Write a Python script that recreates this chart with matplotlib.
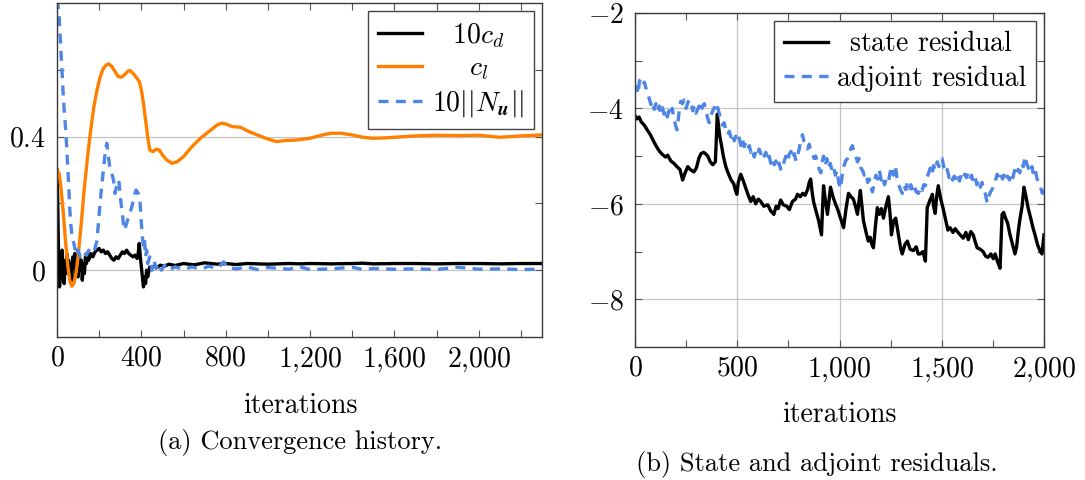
import io
import numpy as np
import matplotlib
matplotlib.use("Agg")
import matplotlib.pyplot as plt
from matplotlib.ticker import FixedLocator, FuncFormatter
import matplotlib.mathtext as mathtext

plt.rcParams['font.family'] = 'serif'
plt.rcParams['font.serif'] = ['cmr10']
plt.rcParams['mathtext.fontset'] = 'cm'
plt.rcParams['axes.unicode_minus'] = False
plt.rcParams['axes.formatter.use_mathtext'] = True

ORANGE = '#FF8000'
BLUE = '#4F86E6'
FS = 20

# ---- (a) convergence history ----
cl_x = [0, 10, 20, 30, 40, 50, 60, 70, 80, 90, 100, 115, 130, 145, 160, 175, 190, 205, 220, 235,
        245, 260, 275, 290, 305, 320, 335, 345, 360, 375, 390, 400, 410, 420, 430, 440, 455, 470,
        485, 500, 520, 545, 570, 600, 640, 680, 720, 760, 780, 800, 830, 870, 910, 950, 990, 1040,
        1080, 1140, 1200, 1260, 1300, 1350, 1400, 1450, 1500, 1550, 1600, 1700, 1800, 1900, 2000,
        2100, 2200, 2300]
cl_y = [0.30, 0.29, 0.24, 0.17, 0.09, 0.02, -0.03, -0.048, -0.04, -0.01, 0.04, 0.14, 0.25, 0.34,
        0.42, 0.49, 0.54, 0.58, 0.605, 0.615, 0.618, 0.61, 0.595, 0.58, 0.578, 0.585, 0.595, 0.598,
        0.59, 0.578, 0.565, 0.54, 0.50, 0.45, 0.40, 0.36, 0.355, 0.362, 0.36, 0.345, 0.33, 0.32,
        0.325, 0.34, 0.37, 0.395, 0.415, 0.435, 0.44, 0.438, 0.43, 0.428, 0.415, 0.405, 0.395,
        0.385, 0.388, 0.39, 0.395, 0.405, 0.41, 0.41, 0.405, 0.398, 0.395, 0.396, 0.398, 0.402,
        0.404, 0.403, 0.404, 0.398, 0.402, 0.405]

cd_x = [0, 3, 6, 9, 12, 15, 18, 21, 24, 27, 30, 34, 38, 42, 46, 50, 55, 60, 65, 70, 75, 80, 85,
        90, 95, 100, 105, 110, 115, 120, 125, 130, 135, 140, 145, 150, 160, 170, 180, 190, 200,
        210, 220, 230, 240, 250, 260, 270, 280, 290, 300, 310, 320, 330, 340, 350, 360, 370, 380,
        385, 390, 395, 400, 405, 410, 415, 420, 425, 430, 440, 450, 460, 475, 490, 510, 530, 560,
        600, 650, 700, 760, 800, 850, 900, 1000, 1100, 1150, 1200, 1300, 1400, 1450, 1500, 1600,
        1700, 1800, 1900, 2000, 2100, 2200, 2300]
cd_y = [0.30, 0.22, 0.10, -0.02, -0.05, -0.03, 0.04, 0.01, 0.06, -0.02, 0.03, -0.04, 0.02, -0.01,
        0.05, 0.0, 0.03, -0.02, 0.02, -0.03, 0.04, 0.01, 0.05, -0.01, 0.03, -0.02, 0.04, 0.0, 0.03,
        -0.03, 0.02, -0.01, 0.04, 0.02, 0.05, 0.03, 0.05, 0.04, 0.055, 0.06, 0.065, 0.055, 0.06,
        0.05, 0.055, 0.045, 0.035, 0.03, 0.04, 0.035, 0.045, 0.055, 0.05, 0.06, 0.05, 0.045, 0.04,
        0.045, 0.035, 0.05, 0.08, 0.04, 0.01, -0.02, -0.05, -0.02, -0.04, 0.0, -0.02, 0.01, 0.005,
        0.012, 0.008, 0.015, 0.012, 0.018, 0.014, 0.02, 0.016, 0.022, 0.018, 0.02, 0.017, 0.02,
        0.018, 0.02, 0.019, 0.02, 0.019, 0.02, 0.021, 0.019, 0.02, 0.02, 0.019, 0.02, 0.02, 0.019,
        0.02, 0.02]

nu_x = [0, 5, 10, 15, 20, 25, 30, 35, 40, 45, 50, 55, 60, 65, 70, 75, 80, 85, 90, 95, 100, 110,
        120, 130, 140, 150, 160, 170, 180, 190, 200, 210, 220, 230, 236, 242, 250, 260, 268, 275,
        282, 290, 295, 300, 310, 318, 325, 335, 345, 355, 365, 375, 385, 393, 400, 405, 410, 415,
        420, 425, 430, 440, 450, 460, 470, 480, 495, 510, 530, 560, 600, 640, 680, 720, 760, 790,
        810, 850, 900, 950, 1000, 1100, 1150, 1200, 1300, 1400, 1450, 1500, 1600, 1700, 1800, 1900,
        2000, 2100, 2200, 2300]
nu_y = [0.82, 0.79, 0.76, 0.70, 0.64, 0.58, 0.52, 0.47, 0.43, 0.38, 0.32, 0.26, 0.19, 0.14, 0.11,
        0.09, 0.08, 0.065, 0.06, 0.045, 0.06, 0.04, 0.055, 0.05, 0.045, 0.06, 0.05, 0.055, 0.065,
        0.09, 0.17, 0.24, 0.30, 0.36, 0.38, 0.35, 0.31, 0.29, 0.27, 0.23, 0.25, 0.27, 0.26, 0.22,
        0.17, 0.12, 0.13, 0.15, 0.17, 0.19, 0.22, 0.24, 0.23, 0.21, 0.14, 0.10, 0.07, 0.09, 0.04,
        0.06, 0.02, 0.04, 0.0, 0.03, 0.005, 0.02, 0.0, 0.015, 0.0, 0.01, 0.002, 0.01, 0.003, 0.012,
        0.005, 0.025, 0.008, 0.004, 0.01, 0.002, 0.008, 0.003, 0.01, 0.002, 0.004, 0.009, 0.002,
        0.005, 0.003, 0.004, 0.002, 0.009, 0.003, 0.004, 0.002, 0.003]

# ---- (b) residuals (log10) ----
state_x = [0, 10, 20, 30, 45, 60, 75, 90, 105, 120, 135, 150, 160, 175, 190, 205, 220, 233, 245,
           258, 270, 288, 300, 312, 322, 335, 345, 356, 368, 380, 393, 398, 402, 408, 415, 422,
           432, 444, 455, 470, 483, 490, 498, 505, 517, 528, 540, 552, 566, 578, 590, 603, 615,
           630, 649, 664, 679, 690, 700, 712, 725, 742, 755, 770, 785, 795, 808, 820, 832, 844,
           852, 859, 866, 873, 885, 898, 905, 912, 917, 922, 930, 941, 948, 956, 968, 980, 990,
           1005, 1020, 1032, 1044, 1056, 1068, 1078, 1088, 1095, 1102, 1110, 1117, 1130, 1141,
           1150, 1158, 1166, 1175, 1185, 1195, 1205, 1215, 1227, 1239, 1247, 1254, 1265, 1275,
           1290, 1300, 1307, 1320, 1332, 1345, 1361, 1375, 1385, 1395, 1408, 1420, 1425, 1429,
           1440, 1454, 1460, 1468, 1475, 1483, 1495, 1507, 1520, 1530, 1541, 1555, 1566, 1576,
           1590, 1605, 1618, 1630, 1642, 1654, 1664, 1673, 1688, 1702, 1715, 1727, 1740, 1752,
           1761, 1772, 1785, 1790, 1795, 1803, 1810, 1822, 1834, 1846, 1858, 1866, 1875, 1883,
           1893, 1902, 1912, 1922, 1935, 1946, 1956, 1968, 1980, 1990, 2000]
state_y = [-4.15, -4.22, -4.18, -4.28, -4.35, -4.45, -4.55, -4.68, -4.80, -4.90, -4.97, -5.02,
           -4.98, -5.10, -5.15, -5.22, -5.28, -5.50, -5.35, -5.22, -5.28, -5.33, -5.25, -5.05,
           -4.95, -4.92, -4.95, -5.00, -5.12, -5.18, -5.12, -4.6, -4.12, -4.35, -4.60, -4.75,
           -5.00, -5.22, -5.35, -5.50, -5.58, -5.70, -5.80, -5.55, -5.38, -5.50, -5.65, -5.80,
           -5.95, -5.85, -6.00, -5.90, -5.95, -6.05, -6.02, -6.15, -6.22, -6.05, -6.10, -5.92,
           -6.02, -6.05, -6.12, -5.95, -5.90, -5.80, -5.85, -5.78, -5.82, -5.70, -5.55, -5.48,
           -5.75, -5.95, -6.15, -6.35, -6.50, -6.65, -6.10, -5.62, -5.90, -6.22, -5.95, -5.65,
           -5.85, -6.00, -6.10, -6.30, -6.50, -6.10, -5.78, -5.85, -5.90, -6.05, -6.22, -5.95,
           -5.72, -6.05, -6.35, -6.60, -6.78, -6.70, -6.85, -6.92, -6.50, -6.08, -6.22, -6.10,
           -6.30, -6.05, -5.85, -6.20, -6.65, -6.35, -6.30, -6.70, -6.95, -7.05, -6.85, -6.78,
           -6.95, -6.98, -6.90, -7.05, -7.05, -7.00, -7.20, -6.60, -6.08, -5.95, -5.80, -6.05,
           -6.20, -5.85, -5.62, -5.90, -6.10, -6.35, -6.55, -6.50, -6.60, -6.52, -6.58, -6.65,
           -6.72, -6.60, -6.75, -6.58, -6.65, -6.80, -6.92, -6.95, -7.00, -7.10, -7.12, -7.05,
           -7.15, -7.05, -7.20, -7.35, -6.80, -6.22, -6.18, -6.28, -6.40, -6.65, -6.85, -7.05,
           -6.90, -6.55, -6.30, -6.05, -5.65, -5.85, -6.08, -6.30, -6.50, -6.65, -6.85, -6.98,
           -7.05, -6.65]

adj_x = [0, 8, 15, 22, 30, 38, 46, 54, 62, 70, 78, 86, 94, 102, 110, 118, 126, 134, 142, 150,
         158, 166, 174, 182, 190, 198, 205, 210, 216, 224, 232, 240, 250, 258, 266, 274, 282, 290,
         298, 306, 314, 322, 330, 339, 347, 355, 363, 371, 380, 388, 396, 404, 412, 420, 428, 436,
         444, 453, 461, 469, 477, 485, 493, 502, 510, 518, 526, 534, 542, 551, 559, 567, 575, 583,
         591, 599, 607, 615, 624, 632, 640, 648, 656, 664, 672, 681, 689, 697, 705, 714, 722, 730,
         738, 746, 755, 763, 771, 779, 787, 795, 803, 811, 819, 827, 835, 844, 852, 860, 868, 876,
         884, 893, 901, 909, 916, 922, 930, 938, 946, 955, 963, 971, 980, 988, 996, 1005, 1013,
         1022, 1030, 1039, 1047, 1055, 1063, 1071, 1080, 1088, 1096, 1105, 1113, 1121, 1130, 1138,
         1146, 1154, 1161, 1170, 1178, 1187, 1195, 1204, 1212, 1220, 1229, 1239, 1247, 1256, 1264,
         1273, 1281, 1290, 1298, 1307, 1315, 1324, 1332, 1341, 1349, 1358, 1366, 1375, 1386, 1395,
         1404, 1412, 1420, 1428, 1436, 1444, 1452, 1460, 1469, 1478, 1486, 1494, 1502, 1511, 1519,
         1527, 1536, 1544, 1553, 1561, 1570, 1578, 1587, 1595, 1604, 1612, 1621, 1629, 1638, 1646,
         1655, 1663, 1672, 1680, 1689, 1697, 1706, 1714, 1722, 1730, 1738, 1746, 1755, 1763, 1771,
         1780, 1788, 1797, 1805, 1814, 1822, 1831, 1839, 1848, 1856, 1865, 1873, 1882, 1890, 1899,
         1907, 1915, 1924, 1932, 1941, 1949, 1958, 1966, 1975, 1983, 1992, 2000]
adj_y = [-3.65, -3.55, -3.70, -3.42, -3.38, -3.50, -3.45, -3.58, -3.68, -3.80, -3.92, -3.85, -4.02,
         -3.90, -4.05, -3.95, -4.10, -3.98, -4.12, -4.02, -4.18, -4.05, -4.15, -4.00, -4.20, -4.35,
         -4.45, -4.30, -4.05, -3.85, -3.90, -3.82, -4.00, -3.88, -3.82, -3.85, -4.05, -3.95, -4.10,
         -4.02, -3.95, -4.08, -3.95, -3.90, -4.05, -4.20, -4.30, -4.15, -4.05, -3.98, -4.08, -3.98,
         -4.10, -4.25, -4.35, -4.30, -4.45, -4.55, -4.48, -4.60, -4.52, -4.68, -4.58, -4.70, -4.62,
         -4.78, -4.65, -4.80, -4.72, -4.85, -4.78, -4.92, -4.85, -5.02, -4.90, -4.98, -4.85, -4.95,
         -4.88, -5.00, -4.92, -5.10, -5.00, -5.15, -5.05, -5.18, -5.10, -5.25, -5.15, -5.30, -5.22,
         -5.10, -5.00, -5.12, -4.95, -4.90, -5.05, -4.95, -5.10, -4.98, -4.85, -4.65, -4.55, -4.70,
         -4.78, -4.85, -4.75, -4.90, -4.95, -5.05, -5.00, -5.15, -5.28, -5.35, -5.10, -5.00, -5.20,
         -5.05, -5.25, -5.15, -5.30, -5.22, -5.40, -5.30, -5.55, -5.68, -5.40, -5.20, -5.10, -5.05,
         -4.95, -4.85, -4.78, -4.92, -5.00, -5.12, -5.05, -5.25, -5.30, -5.40, -5.35, -5.55, -5.48,
         -5.65, -5.75, -5.55, -5.40, -5.48, -5.30, -5.50, -5.42, -5.60, -5.48, -5.55, -5.35, -5.22,
         -5.40, -5.20, -5.45, -5.60, -5.70, -5.78, -5.62, -5.70, -5.55, -5.68, -5.60, -5.72, -5.62,
         -5.75, -5.78, -5.65, -5.72, -5.60, -5.62, -5.45, -5.35, -5.25, -5.38, -5.20, -5.30, -5.12,
         -5.22, -5.08, -5.05, -5.25, -5.35, -5.28, -5.45, -5.38, -5.50, -5.42, -5.55, -5.45, -5.52,
         -5.40, -5.48, -5.38, -5.45, -5.35, -5.48, -5.40, -5.55, -5.45, -5.60, -5.50, -5.65, -5.55,
         -5.72, -5.80, -5.98, -5.85, -5.75, -5.70, -5.62, -5.50, -5.38, -5.45, -5.35, -5.48, -5.40,
         -5.52, -5.42, -5.50, -5.35, -5.45, -5.30, -5.40, -5.28, -5.35, -5.15, -5.22, -5.00, -5.15,
         -5.25, -5.35, -5.22, -5.40, -5.30, -5.48, -5.55, -5.65, -5.78, -5.62]


def mathlabel(v, pos=None):
    if abs(v - round(v)) < 1e-9:
        s = '{:,}'.format(int(round(v))).replace(',', '{,}')
    else:
        s = '{:g}'.format(v)
    return '$' + s + '$'


def pick_u():
    # bold italic u if mathtext can do it, otherwise upright bold
    lab = r'$10||N_{\boldsymbol{u}}||$'
    try:
        mathtext.math_to_image(lab, io.BytesIO(), dpi=72, format='png')
        return lab
    except Exception:
        return r'$10||N_{\mathbf{u}}||$'


def style_axes(ax):
    for s in ax.spines.values():
        s.set_linewidth(1.0)
        s.set_color('#3a3a3a')
    ax.tick_params(which='both', direction='in', top=True, right=True, length=5,
                   width=0.8, color='#555555', labelsize=FS)
    ax.tick_params(axis='x', which='both', pad=6)
    ax.tick_params(axis='y', which='both', pad=8)
    ax.xaxis.set_major_formatter(FuncFormatter(mathlabel))
    ax.yaxis.set_major_formatter(FuncFormatter(mathlabel))


fig = plt.figure(figsize=(10.85, 4.8), dpi=100)
W, H = 1085.0, 480.0
ax1 = fig.add_axes([57 / W, 1 - 337 / H, 485 / W, 334 / H])
ax2 = fig.add_axes([635 / W, 1 - 347 / H, 409 / W, 334 / H])

lw = 2.4
ax1.plot(cd_x, cd_y, color='black', lw=lw, label=r'$\;\;\;10c_d$')
ax1.plot(cl_x, cl_y, color=ORANGE, lw=lw, label=r'$\quad\;\;c_l$')
ax1.plot(nu_x, nu_y, color=BLUE, lw=lw, ls=(0, (3, 2.2)), label=pick_u())
ax1.set_xlim(0, 2300)
ax1.set_ylim(-0.2, 0.8)
ax1.xaxis.set_major_locator(FixedLocator([0, 400, 800, 1200, 1600, 2000]))
ax1.xaxis.set_minor_locator(FixedLocator([200, 600, 1000, 1400, 1800, 2200]))
ax1.yaxis.set_major_locator(FixedLocator([0, 0.4]))
ax1.yaxis.set_minor_locator(FixedLocator([0.2, 0.6]))
style_axes(ax1)
ax1.grid(axis='y', which='major', color='#c4c4c4', lw=0.9)
ax1.set_axisbelow(True)
leg1 = ax1.legend(loc='upper right', fontsize=FS, frameon=True, fancybox=False,
                  edgecolor='#444444', framealpha=1, handlelength=1.6, handletextpad=0.35,
                  labelspacing=0.2, borderpad=0.35, borderaxespad=0.3)
leg1.get_frame().set_linewidth(1.0)

ax2.plot(state_x, state_y, color='black', lw=lw, label=r'$\enspace$state residual')
ax2.plot(adj_x, adj_y, color=BLUE, lw=lw, ls=(0, (3, 2.2)), label='adjoint residual')
ax2.set_xlim(0, 2000)
ax2.set_ylim(-9, -2)
ax2.xaxis.set_major_locator(FixedLocator([0, 500, 1000, 1500, 2000]))
ax2.xaxis.set_minor_locator(FixedLocator([250, 750, 1250, 1750]))
ax2.yaxis.set_major_locator(FixedLocator([-8, -6, -4, -2]))
ax2.yaxis.set_minor_locator(FixedLocator([-7, -5, -3]))
style_axes(ax2)
ax2.grid(which='major', color='#c4c4c4', lw=0.9)
ax2.set_axisbelow(True)
leg2 = ax2.legend(loc='upper right', fontsize=FS, frameon=True, fancybox=False,
                  edgecolor='#444444', framealpha=1, handlelength=1.6, handletextpad=0.3,
                  labelspacing=0.3, borderpad=0.35, borderaxespad=0.3)
leg2.get_frame().set_linewidth(1.0)

fig.text(300 / W, 1 - 413 / H, 'iterations', ha='center', va='baseline', fontsize=FS)
fig.text(839 / W, 1 - 422 / H, 'iterations', ha='center', va='baseline', fontsize=FS)
fig.text(300 / W, 1 - 449 / H, '(a) Convergence history.', ha='center', va='baseline', fontsize=19)
fig.text(817 / W, 1 - 471 / H, '(b) State and adjoint residuals.', ha='center', va='baseline',
         fontsize=19)

fig.savefig('out.png', dpi=100)
